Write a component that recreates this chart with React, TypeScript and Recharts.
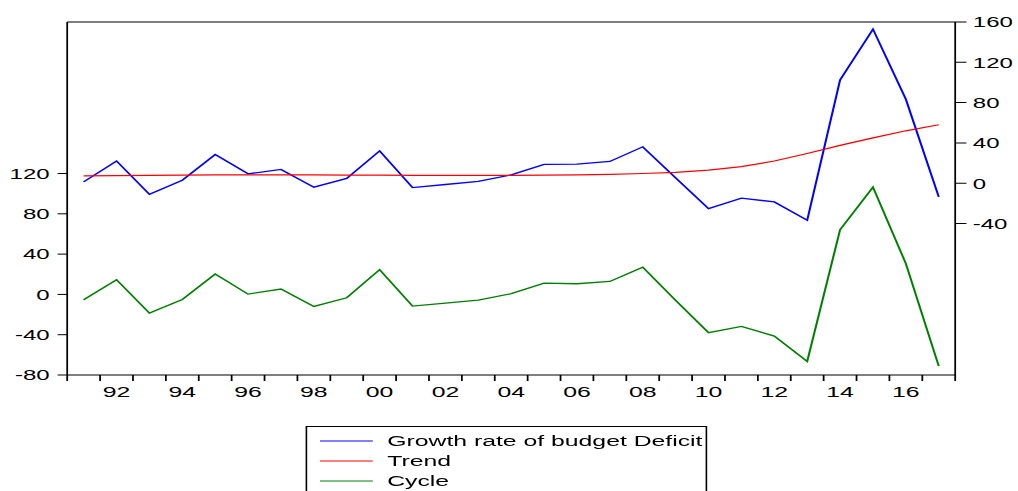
import { LineChart, Line, XAxis, YAxis, Legend, ReferenceLine } from "recharts";

const years = [
  1991, 1992, 1993, 1994, 1995, 1996, 1997, 1998, 1999, 2000, 2001, 2002, 2003, 2004,
  2005, 2006, 2007, 2008, 2009, 2010, 2011, 2012, 2013, 2014, 2015, 2016, 2017,
];

const growthRate = [
  1.3, 22, -11, 3, 28.5, 9.3, 13.6, -4, 4.7, 32.1, -4.3, -1.3, 1.7, 8.3,
  18.6, 18.9, 21.6, 36.1, 5.2, -25.2, -14.9, -18.6, -36.8, 102.5, 152.9, 83.3, -13.6,
];

const trend = [
  7.3, 7.5, 7.8, 8.0, 8.2, 8.3, 8.3, 8.2, 8.1, 8.0, 7.8, 7.7, 7.7, 7.8,
  8.0, 8.3, 8.8, 9.6, 10.8, 13.0, 16.5, 22.0, 29.5, 37.5, 45.0, 52.0, 58.0,
];

const cycle = [
  -5.3, 14.6, -18.5, -5, 20.2, 0.3, 5.3, -11.9, -3.3, 24.5, -11.6, -8.6, -5.6, 0.7,
  11.2, 10.6, 12.9, 27.1, -6, -38, -31.8, -41.4, -66.5, 64.2, 106.5, 30.5, -71.2,
];

const seriesNames = ["Growth rate of budget Deficit", "Trend", "Cycle"];
const leftTicks = [-80, -40, 0, 40, 80, 120];
const rightTicks = [-40, 0, 40, 80, 120, 160];
const labelYears = [1992, 1994, 1996, 1998, 2000, 2002, 2004, 2006, 2008, 2010, 2012, 2014, 2016];

const data = years.map((year, i) => ({
  year,
  growth: growthRate[i],
  trend: trend[i],
  cycle: cycle[i],
}));

// tick marks sit on year boundaries, labels in the middle of the year
const boundaries = years.map((y) => y - 0.5).concat(years[years.length - 1] + 0.5);
const xTicks = [...boundaries, ...labelYears].sort((a, b) => a - b);

const FONT = "'Liberation Sans', Arial, sans-serif";
const STRETCH = 1.6;

function XTick(props: any) {
  const { x, y, payload } = props;
  const v = payload.value;
  if (v % 1 !== 0) {
    return <line x1={x} x2={x} y1={y} y2={y + 6} stroke="#000" strokeWidth={1.1} />;
  }
  return (
    <text x={x} y={y + 22.5} textAnchor="middle" fontSize={15.5} fontFamily={FONT} fill="#000">
      {String(v).slice(2)}
    </text>
  );
}

function LegendBox(props: any) {
  const items = [...(props.payload || [])].sort(
    (a: any, b: any) => seriesNames.indexOf(a.value) - seriesNames.indexOf(b.value)
  );
  return (
    <svg width={250} height={78}>
      {items.map((item: any, i: number) => {
        const cy = 14 + i * 20;
        return (
          <g key={item.value}>
            <line x1={8} x2={41} y1={cy} y2={cy} stroke={item.color} strokeWidth={1} />
            <text x={50} y={cy + 5.5} fontSize={15.5} fontFamily={FONT} fill="#000">
              {item.value}
            </text>
          </g>
        );
      })}
    </svg>
  );
}

export default function App() {
  return (
    <div
      style={{
        position: "absolute",
        left: 0,
        top: 0,
        width: 636,
        height: 491,
        background: "#fff",
        transform: `scaleX(${STRETCH})`,
        transformOrigin: "0 0",
      }}
    >
      <LineChart width={636} height={491} data={data} margin={{ top: 22, right: 0, bottom: 86, left: 0 }}>
        <XAxis
          dataKey="year"
          type="number"
          domain={[1990.5, 2017.5]}
          ticks={xTicks}
          interval={0}
          tickLine={false}
          tickSize={0}
          tickMargin={0}
          tick={<XTick />}
          height={30}
          axisLine={{ stroke: "#000", strokeWidth: 1 }}
        />
        <YAxis
          yAxisId="left"
          orientation="left"
          domain={[-80, 270.4]}
          ticks={leftTicks}
          interval={0}
          width={42}
          tickSize={6}
          tickMargin={5}
          tick={{ fontSize: 15, fill: "#000", fontFamily: FONT }}
          tickLine={{ stroke: "#000" }}
          axisLine={{ stroke: "#000", strokeWidth: 1.1 }}
        />
        <YAxis
          yAxisId="right"
          orientation="right"
          domain={[-190.4, 160]}
          ticks={rightTicks}
          interval={0}
          width={39}
          tickSize={7}
          tickMargin={4}
          tick={{ fontSize: 15, fill: "#000", fontFamily: FONT }}
          tickLine={{ stroke: "#000" }}
          axisLine={{ stroke: "#000", strokeWidth: 1.1 }}
        />
        <ReferenceLine yAxisId="right" y={160} stroke="#000" strokeWidth={1} />
        <Line
          yAxisId="right"
          dataKey="growth"
          name={seriesNames[0]}
          stroke="#0000FF"
          strokeWidth={1.3}
          dot={false}
          isAnimationActive={false}
        />
        <Line
          yAxisId="right"
          dataKey="trend"
          name={seriesNames[1]}
          stroke="#FF0000"
          strokeWidth={1.2}
          dot={false}
          isAnimationActive={false}
        />
        <Line
          yAxisId="left"
          dataKey="cycle"
          name={seriesNames[2]}
          stroke="#008000"
          strokeWidth={1.3}
          dot={false}
          isAnimationActive={false}
        />
        <Legend
          verticalAlign="middle"
          align="center"
          layout="horizontal"
          content={<LegendBox />}
          wrapperStyle={{
            position: "absolute",
            left: 190.6,
            top: 426,
            width: 251.5,
            height: 80,
            border: "1px solid #000",
            boxSizing: "border-box",
            background: "#fff",
          }}
        />
      </LineChart>
    </div>
  );
}
